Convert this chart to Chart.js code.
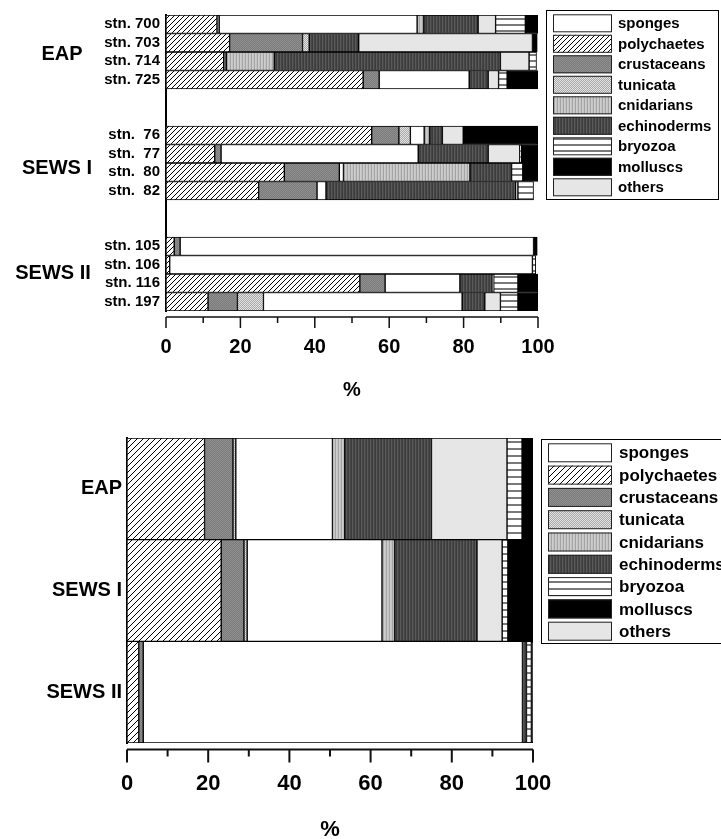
<!DOCTYPE html>
<html>
<head>
<meta charset="utf-8">
<script src="https://cdn.jsdelivr.net/npm/chart.js@4.4.1/dist/chart.umd.min.js"></script>
<style>
  html, body { margin: 0; padding: 0; background: #fff; overflow: hidden; }
  canvas { position: absolute; left: 0; }
  #top { top: 0; }
  #bottom { top: 420px; }
</style>
</head>
<body>
<canvas id="top" width="721" height="420"></canvas>
<canvas id="bottom" width="721" height="419"></canvas>
<script>
// stations (upper chart), % composition
const stations = ['stn. 700', 'stn. 703', 'stn. 714', 'stn. 725',
                  'stn.  76', 'stn.  77', 'stn.  80', 'stn.  82',
                  'stn. 105', 'stn. 106', 'stn. 116', 'stn. 197'];
const stationGroups = ['EAP', 'SEWS I', 'SEWS II'];
const stnPolychaetes = [13.7, 17.1, 15.5, 53.0, 55.3, 13.1, 31.8, 24.9, 2.2, 1.0, 52.1, 11.3];
const stnCrustaceans = [0.6, 19.6, 0.7, 4.3, 7.3, 1.7, 14.8, 15.7, 1.6, 0, 6.8, 7.9];
const stnTunicata    = [0, 1.8, 0, 0, 3.1, 0, 0, 0, 0, 0, 0, 7.0];
const stnSponges     = [53.2, 0, 0, 24.2, 3.7, 53.0, 1.1, 2.4, 95.0, 97.5, 20.1, 53.4];
const stnCnidarians  = [1.8, 0, 12.9, 0, 1.5, 0, 34.0, 0, 0, 0, 0, 0];
const stnEchinoderms = [14.6, 13.3, 60.8, 5.1, 3.4, 18.8, 11.2, 51.0, 0, 0, 8.7, 6.1];
const stnOthers      = [4.7, 46.7, 7.7, 2.8, 5.6, 8.5, 0, 0.6, 0, 0, 0.4, 4.2];
const stnBryozoa     = [8.0, 0, 2.0, 2.3, 0, 0.4, 3.0, 4.2, 0, 0.9, 6.5, 4.7];
const stnMolluscs    = [3.4, 1.3, 0, 8.3, 20.1, 4.5, 4.2, 0, 1.0, 0, 5.4, 5.4];

// regions (lower chart)
const regions = ['EAP', 'SEWS I', 'SEWS II'];
const regPolychaetes = [19.1, 23.2, 2.9];
const regCrustaceans = [7.0, 5.6, 1.1];
const regTunicata    = [0.7, 0.8, 0];
const regSponges     = [23.8, 33.2, 93.4];
const regCnidarians  = [3.0, 3.1, 0];
const regEchinoderms = [21.4, 20.3, 1.0];
const regOthers      = [18.6, 6.2, 0];
const regBryozoa     = [3.7, 1.4, 1.2];
const regMolluscs    = [2.7, 6.2, 0.4];

const xTicks = [0, 20, 40, 60, 80, 100];

const stackOrder = ['polychaetes', 'crustaceans', 'tunicata', 'sponges', 'cnidarians',
                    'echinoderms', 'others', 'bryozoa', 'molluscs'];
const legendOrder = ['sponges', 'polychaetes', 'crustaceans', 'tunicata', 'cnidarians',
                     'echinoderms', 'bryozoa', 'molluscs', 'others'];

Chart.defaults.font.family = '"Liberation Sans", Arial, sans-serif';
Chart.defaults.color = '#000';

// two blank rows between the station groups
function withGaps(arr, blank) {
  const out = [];
  arr.forEach((v, i) => {
    out.push(v);
    if (i === 3 || i === 7) out.push(blank, blank);
  });
  return out;
}

function tile(w, h, draw) {
  const c = document.createElement('canvas');
  c.width = w; c.height = h;
  draw(c.getContext('2d'), w, h);
  return c;
}

function fills(ctx, s) {
  const pat = (c) => ctx.createPattern(c, 'repeat');
  const cols = (list) => (t, w, h) => list.forEach((c, i) => { t.fillStyle = c; t.fillRect(i, 0, 1, h); });
  return {
    sponges: '#ffffff',
    polychaetes: pat(tile(s, s, (t) => {
      t.fillStyle = '#fff'; t.fillRect(0, 0, s, s);
      t.strokeStyle = '#000'; t.lineWidth = 1;
      t.beginPath();
      t.moveTo(0, s); t.lineTo(s, 0);
      t.moveTo(-1, 1); t.lineTo(1, -1);
      t.moveTo(s - 1, s + 1); t.lineTo(s + 1, s - 1);
      t.stroke();
    })),
    crustaceans: pat(tile(2, 2, (t) => {
      t.fillStyle = '#7c7c7c'; t.fillRect(0, 0, 2, 2);
      t.fillStyle = '#8e8e8e'; t.fillRect(0, 0, 1, 1); t.fillRect(1, 1, 1, 1);
    })),
    tunicata: pat(tile(2, 2, (t) => {
      t.fillStyle = '#a8a8a8'; t.fillRect(0, 0, 2, 2);
      t.fillStyle = '#e4e4e4'; t.fillRect(0, 0, 1, 1); t.fillRect(1, 1, 1, 1);
    })),
    cnidarians: pat(tile(3, 1, cols(['#cdcdcd', '#c4c4c4', '#a4a4a4']))),
    echinoderms: pat(tile(3, 1, cols(['#3c3c3c', '#5a5a5a', '#464646']))),
    others: '#e6e6e6',
    bryozoa: pat(tile(1, s + 1, (t, w, h) => {
      t.fillStyle = '#fff'; t.fillRect(0, 0, w, h);
      t.fillStyle = '#7a7a7a'; t.fillRect(0, 0, w, 2);
    })),
    molluscs: '#000000'
  };
}

const decor = {
  id: 'decor',
  afterDraw(chart, args, o) {
    const { ctx, chartArea: a, scales: { x, y } } = chart;
    ctx.save();
    // x axis, set a little below the bars
    const ay = a.bottom + o.axisGap;
    ctx.strokeStyle = '#111';
    ctx.lineWidth = o.axisWidth;
    ctx.beginPath();
    ctx.moveTo(x.getPixelForValue(0), ay);
    ctx.lineTo(x.getPixelForValue(100), ay);
    for (let v = 0; v <= 100; v += 10) {
      const px = x.getPixelForValue(v);
      ctx.moveTo(px, ay);
      ctx.lineTo(px, ay + (v % 20 === 0 ? o.major : o.minor));
    }
    ctx.stroke();

    // group names beside the station labels
    if (o.groups) {
      ctx.font = 'bold 20px "Liberation Sans", Arial, sans-serif';
      ctx.fillStyle = '#000';
      ctx.textAlign = 'center';
      ctx.textBaseline = 'middle';
      o.groups.forEach((g) => ctx.fillText(g.text, g.x, y.getPixelForValue(g.at)));
    }

    // legend box
    const L = o.legend;
    ctx.lineWidth = 1;
    ctx.strokeStyle = '#000';
    ctx.strokeRect(L.x + 0.5, L.y + 0.5, L.w, L.h);
    ctx.font = L.font;
    ctx.textAlign = 'left';
    ctx.textBaseline = 'middle';
    legendOrder.forEach((name, i) => {
      const ds = chart.data.datasets.find((d) => d.label === name);
      const sy = L.y + L.first + i * L.pitch;
      ctx.fillStyle = ds.backgroundColor;
      ctx.fillRect(L.sx, sy, L.sw, L.sh);
      ctx.strokeStyle = '#222';
      ctx.strokeRect(L.sx + 0.5, sy + 0.5, L.sw - 1, L.sh - 1);
      ctx.fillStyle = '#000';
      ctx.fillText(name, L.tx, sy + L.sh / 2 + 1);
    });
    ctx.restore();
  }
};

function buildDatasets(ctx, s, series, gaps) {
  const f = fills(ctx, s);
  return stackOrder.map((name) => ({
    label: name,
    data: gaps ? withGaps(series[name], null) : series[name],
    backgroundColor: f[name],
    borderColor: '#000',
    borderWidth: 1,
    borderSkipped: false,
    barPercentage: 1,
    categoryPercentage: 1
  }));
}

function axes(o) {
  return {
    x: {
      stacked: true, min: 0, max: 100,
      afterFit: (sc) => { sc.height = o.xHeight; },
      afterBuildTicks: (sc) => { sc.ticks = xTicks.map((v) => ({ value: v })); },
      grid: { display: false, drawTicks: false },
      border: { display: false },
      ticks: { padding: o.tickPad, color: '#000', font: { size: o.tickSize, weight: 'bold' } },
      title: {
        display: true, text: '%', color: '#000',
        font: { size: o.tickSize, weight: 'bold', lineHeight: o.titleLH },
        padding: { top: 0, bottom: o.titlePad }
      }
    },
    y: {
      stacked: true,
      afterFit: (sc) => { sc.width = o.yWidth; },
      grid: { display: false, drawTicks: false },
      border: { display: true, color: '#000', width: 2 },
      ticks: { autoSkip: false, padding: o.yPad, color: '#000', font: { size: o.ySize, weight: 'bold' } }
    }
  };
}

const topCtx = document.getElementById('top').getContext('2d');
new Chart(topCtx, {
  type: 'bar',
  data: {
    labels: withGaps(stations, ''),
    datasets: buildDatasets(topCtx, 5, {
      polychaetes: stnPolychaetes, crustaceans: stnCrustaceans, tunicata: stnTunicata,
      sponges: stnSponges, cnidarians: stnCnidarians, echinoderms: stnEchinoderms,
      others: stnOthers, bryozoa: stnBryozoa, molluscs: stnMolluscs
    }, true)
  },
  options: {
    indexAxis: 'y',
    responsive: false,
    animation: false,
    layout: { padding: { top: 12, right: 183, left: 0, bottom: 0 } },
    plugins: {
      legend: { display: false },
      tooltip: { enabled: false },
      decor: {
        axisGap: 6, axisWidth: 1.5, major: 11, minor: 6,
        groups: [
          { text: stationGroups[0], x: 62, at: 1.61 },
          { text: stationGroups[1], x: 57, at: 7.82 },
          { text: stationGroups[2], x: 53, at: 13.45 }
        ],
        legend: { x: 546, y: 10, w: 172, h: 189, sx: 553, sw: 59, sh: 18, first: 4.3, pitch: 20.5, tx: 618,
                  font: 'bold 15px "Liberation Sans", Arial, sans-serif' }
      }
    },
    scales: axes({ xHeight: 109, tickPad: 24, tickSize: 20, titleLH: 1.2, titlePad: 18, yWidth: 166, yPad: 6, ySize: 15 })
  },
  plugins: [decor]
});

const botCtx = document.getElementById('bottom').getContext('2d');
new Chart(botCtx, {
  type: 'bar',
  data: {
    labels: regions,
    datasets: buildDatasets(botCtx, 6, {
      polychaetes: regPolychaetes, crustaceans: regCrustaceans, tunicata: regTunicata,
      sponges: regSponges, cnidarians: regCnidarians, echinoderms: regEchinoderms,
      others: regOthers, bryozoa: regBryozoa, molluscs: regMolluscs
    }, false)
  },
  options: {
    indexAxis: 'y',
    responsive: false,
    animation: false,
    layout: { padding: { top: 18, right: 188, left: 0, bottom: 0 } },
    plugins: {
      legend: { display: false },
      tooltip: { enabled: false },
      decor: {
        axisGap: 6.5, axisWidth: 2, major: 13, minor: 7,
        legend: { x: 541, y: 19, w: 240, h: 204, sx: 548, sw: 64, sh: 19, first: 4.3, pitch: 22.3, tx: 619,
                  font: 'bold 17px "Liberation Sans", Arial, sans-serif' }
      }
    },
    scales: axes({ xHeight: 96, tickPad: 28, tickSize: 22, titleLH: 0.8, titlePad: 0, yWidth: 127, yPad: 5, ySize: 20 })
  },
  plugins: [decor]
});
</script>
</body>
</html>
